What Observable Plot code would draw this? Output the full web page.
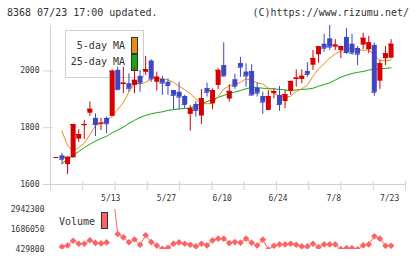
<!DOCTYPE html>
<html>
<head>
<meta charset="utf-8">
<script src="https://cdn.jsdelivr.net/npm/d3@7"></script>
<script src="https://cdn.jsdelivr.net/npm/@observablehq/plot@0.6"></script>
<style>
  body { margin: 0; background: #fff; }
  #chart { position: relative; width: 420px; height: 259px; overflow: hidden; background: #fff;
           font-family: 'DejaVu Sans Mono', monospace; color: #333; }
  .abs { position: absolute; white-space: pre; line-height: 10px; font-size: 10px; }
  .sw { position: absolute; box-sizing: border-box; border: 1px solid #333; }
  #legend { position: absolute; left: 65px; top: 30px; width: 79px; height: 48px;
            box-sizing: border-box; border: 1px solid #cfcfcf; background: #fff; }
  svg { position: absolute; left: 0; }
</style>
</head>
<body>
<div id="chart">
  <div class="abs" style="left:7px;top:8px">8368 07/23 17:00 updated.</div>
  <div class="abs" style="right:11px;top:8px">(C)https://www.rizumu.net/</div>
  <div id="legend"></div>
  <div class="abs" style="right:295px;top:41px;text-align:right">5-day MA</div>
  <div class="abs" style="right:295px;top:57px;text-align:right">25-day MA</div>
  <div class="sw" style="left:131px;top:37px;width:7px;height:17px;background:#f08a12"></div>
  <div class="sw" style="left:131px;top:54px;width:7px;height:17px;background:#14a814"></div>
  <div class="abs" style="left:59px;top:217px">Volume</div>
  <div class="sw" style="left:101px;top:212px;width:7px;height:17px;background:#ff6262"></div>
</div>
<script>
// Daily prices, 4/24 .. 7/23 (one entry per trading day)
const open  = [1695,1701,1670,1694,1760,1807,1851,1833,1813,1833,
               1840,2002,1952,1955,1949,1981,1995,2035,1960,1970,
               1960,1931,1925,1910,1847,1882,1841,1938,1884,1949,
               2019,1901,1969,2026,1996,1998,1939,1910,1861,1920,
               1914,1892,1928,1970,1970,1998,2020,2057,2094,2113,
               2084,2072,2118,2094,2079,2091,2075,2090,1964,2043,2045];
const high  = [1695,1710,1697,1812,1793,1826,1891,1849,1833,1837,
               2004,2013,2013,1990,2013,2002,2051,2039,1996,1981,
               1972,1931,1960,1914,1878,1892,1934,1957,1937,2008,
               2099,1951,1988,2048,2025,2022,1957,1925,1931,1937,
               1945,1931,1964,2004,2004,2029,2072,2086,2129,2160,
               2110,2087,2150,2129,2086,2133,2122,2098,2037,2086,2110];
const low   = [1695,1670,1635,1693,1748,1758,1840,1769,1790,1779,
               1838,1932,1920,1925,1920,1925,1984,1960,1929,1914,
               1914,1863,1863,1867,1788,1837,1811,1908,1863,1935,
               1978,1890,1935,1978,1943,1913,1908,1847,1860,1902,
               1858,1867,1914,1943,1955,1978,2002,2027,2066,2072,
               2072,2043,2058,2055,2019,2075,2061,1911,1935,2019,2043];
const close = [1695,1689,1696,1811,1776,1811,1865,1811,1816,1814,
               1999,1934,1957,1939,1967,1957,2005,1972,1978,1957,
               1949,1914,1908,1882,1867,1861,1902,1925,1931,2002,
               1982,1928,1946,2013,1982,1915,1922,1890,1910,1927,
               1882,1917,1963,1975,1981,1988,2044,2085,2080,2084,
               2091,2086,2065,2063,2059,2115,2099,1925,2025,2061,2094];
const ma5   = [null,1788,1736,1718,1730,1745,1775,1808,1815,1825,
               1840,1865,1888,1926,1956,1954,1960,1971,1976,1973,
               1968,1960,1946,1934,1920,1901,1886,1884,1886,1910,
               1936,1948,1952,1960,1972,1967,1958,1954,1940,1921,
               1911,1907,1911,1928,1937,1950,1982,2007,2026,2045,
               2060,2070,2076,2078,2076,2072,2075,2055,2038,2035,2039];
const ma25  = [null,1673,1690,1703,1716,1730,1742,1753,1762,1770,
               1782,1792,1802,1815,1826,1836,1843,1849,1853,1856,
               1861,1864,1866,1868,1870,1877,1885,1892,1899,1907,
               1914,1920,1926,1931,1937,1942,1941,1939,1938,1937,
               1935,1933,1931,1933,1935,1936,1939,1946,1952,1958,
               1968,1978,1985,1991,1995,1998,2003,2006,2008,2009,2011];
const volume = [null,601300,680200,980500,793100,792800,1010400,845300,810200,876100,
                4330000,1400500,1195300,885200,1058100,730400,1323300,895100,675200,474300,
                538100,793300,876200,793400,730100,621300,793200,685400,1004200,1112300,
                1112100,832200,896300,857100,1112400,857300,685100,1048200,429800,666300,
                749200,749400,793100,730300,621200,621400,793300,577200,749100,749300,
                749200,450100,513200,513400,440200,685300,749400,1259300,1112200,666400,666100];

// date labels and the day positions they sit on
const dateLabels = ["5/13", "5/27", "6/10", "6/24", "7/8", "7/23"];
const datePos = [10, 20, 30, 40, 50, 60];
const priceTicks = [1600, 1800, 2000];
const volumeTicks = [429800, 1686050, 2942300];

const RED = "#d60000", BLUE = "#3e46c4", ORANGE = "#f08a12", GREEN = "#14a814", PINK = "#ff6262";
const AXIS = "#d2d2d2";

const rows = close.map((c, i) => ({
  i, o: open[i], h: high[i], l: low[i], c, up: c >= open[i],
  ma5: ma5[i], ma25: ma25[i], v: volume[i]
}));
const color = d => d.up ? RED : BLUE;

const xDomain = [-1.06, 62.59];
// twelve evenly spaced tick marks along the bottom edge
const gridTicks = d3.range(12).map(k => xDomain[0] + k * (xDomain[1] - xDomain[0]) / 11);

const font = { background: "transparent", fontFamily: "'DejaVu Sans Mono', monospace", fontSize: "8px", color: "#333" };

const price = Plot.plot({
  width: 420, height: 208,
  marginLeft: 50, marginRight: 15, marginTop: 25, marginBottom: 24,
  style: font,
  x: { type: "linear", domain: xDomain, label: null },
  y: { domain: [1600, 2160], label: null },
  marks: [
    Plot.frame({ anchor: "left", stroke: AXIS }),
    Plot.frame({ anchor: "bottom", stroke: AXIS }),
    Plot.axisX({ ticks: gridTicks, tickSize: 9, dy: -3, fill: "none", stroke: AXIS, label: null }),
    Plot.axisX({ ticks: datePos, tickSize: 0, tickPadding: 11, dx: -1.5, label: null,
                 tickFormat: d => dateLabels[datePos.indexOf(d)], fill: "#333" }),
    Plot.axisY({ ticks: priceTicks, tickSize: 10, dx: 3, fill: "none", stroke: AXIS, label: null }),
    Plot.axisY({ ticks: priceTicks, tickSize: 0, tickPadding: 11, tickFormat: d => String(d), fill: "#333", label: null }),
    Plot.line(rows, { x: "i", y: "ma25", stroke: GREEN, strokeWidth: 1 }),
    Plot.line(rows, { x: "i", y: "ma5", stroke: ORANGE, strokeWidth: 1 }),
    Plot.ruleX(rows, { x: "i", y1: "l", y2: "h", stroke: color }),
    Plot.ruleX(rows, { x: "i", y1: "o", y2: "c", stroke: color, strokeWidth: 5 }),
    Plot.ruleY(rows, { y: "c", x1: d => d.i - 0.45, x2: d => d.i + 0.45, stroke: color })
  ]
});
price.style.top = "0px";

const traded = rows.filter(d => d.v != null);
const vol = Plot.plot({
  width: 420, height: 59,
  marginLeft: 50, marginRight: 15, marginTop: 9, marginBottom: 10,
  style: font,
  x: { type: "linear", domain: xDomain, axis: null },
  y: { domain: [volumeTicks[0], volumeTicks[2]], label: null },
  marks: [
    Plot.axisY({ ticks: volumeTicks, tickSize: 0, tickPadding: 6, tickFormat: d => String(d), fill: "#333", label: null }),
    Plot.line(traded.filter(d => d.i < 10), { x: "i", y: "v", stroke: PINK, strokeWidth: 1 }),
    Plot.line(traded.filter(d => d.i >= 10), { x: "i", y: "v", stroke: PINK, strokeWidth: 1, clip: true }),
    Plot.dot(traded, { x: "i", y: "v", symbol: "diamond2", r: 3, fill: PINK, stroke: null, clip: true })
  ]
});
vol.style.top = "200px";

const chart = document.getElementById("chart");
chart.appendChild(price);
chart.appendChild(vol);
</script>
</body>
</html>
